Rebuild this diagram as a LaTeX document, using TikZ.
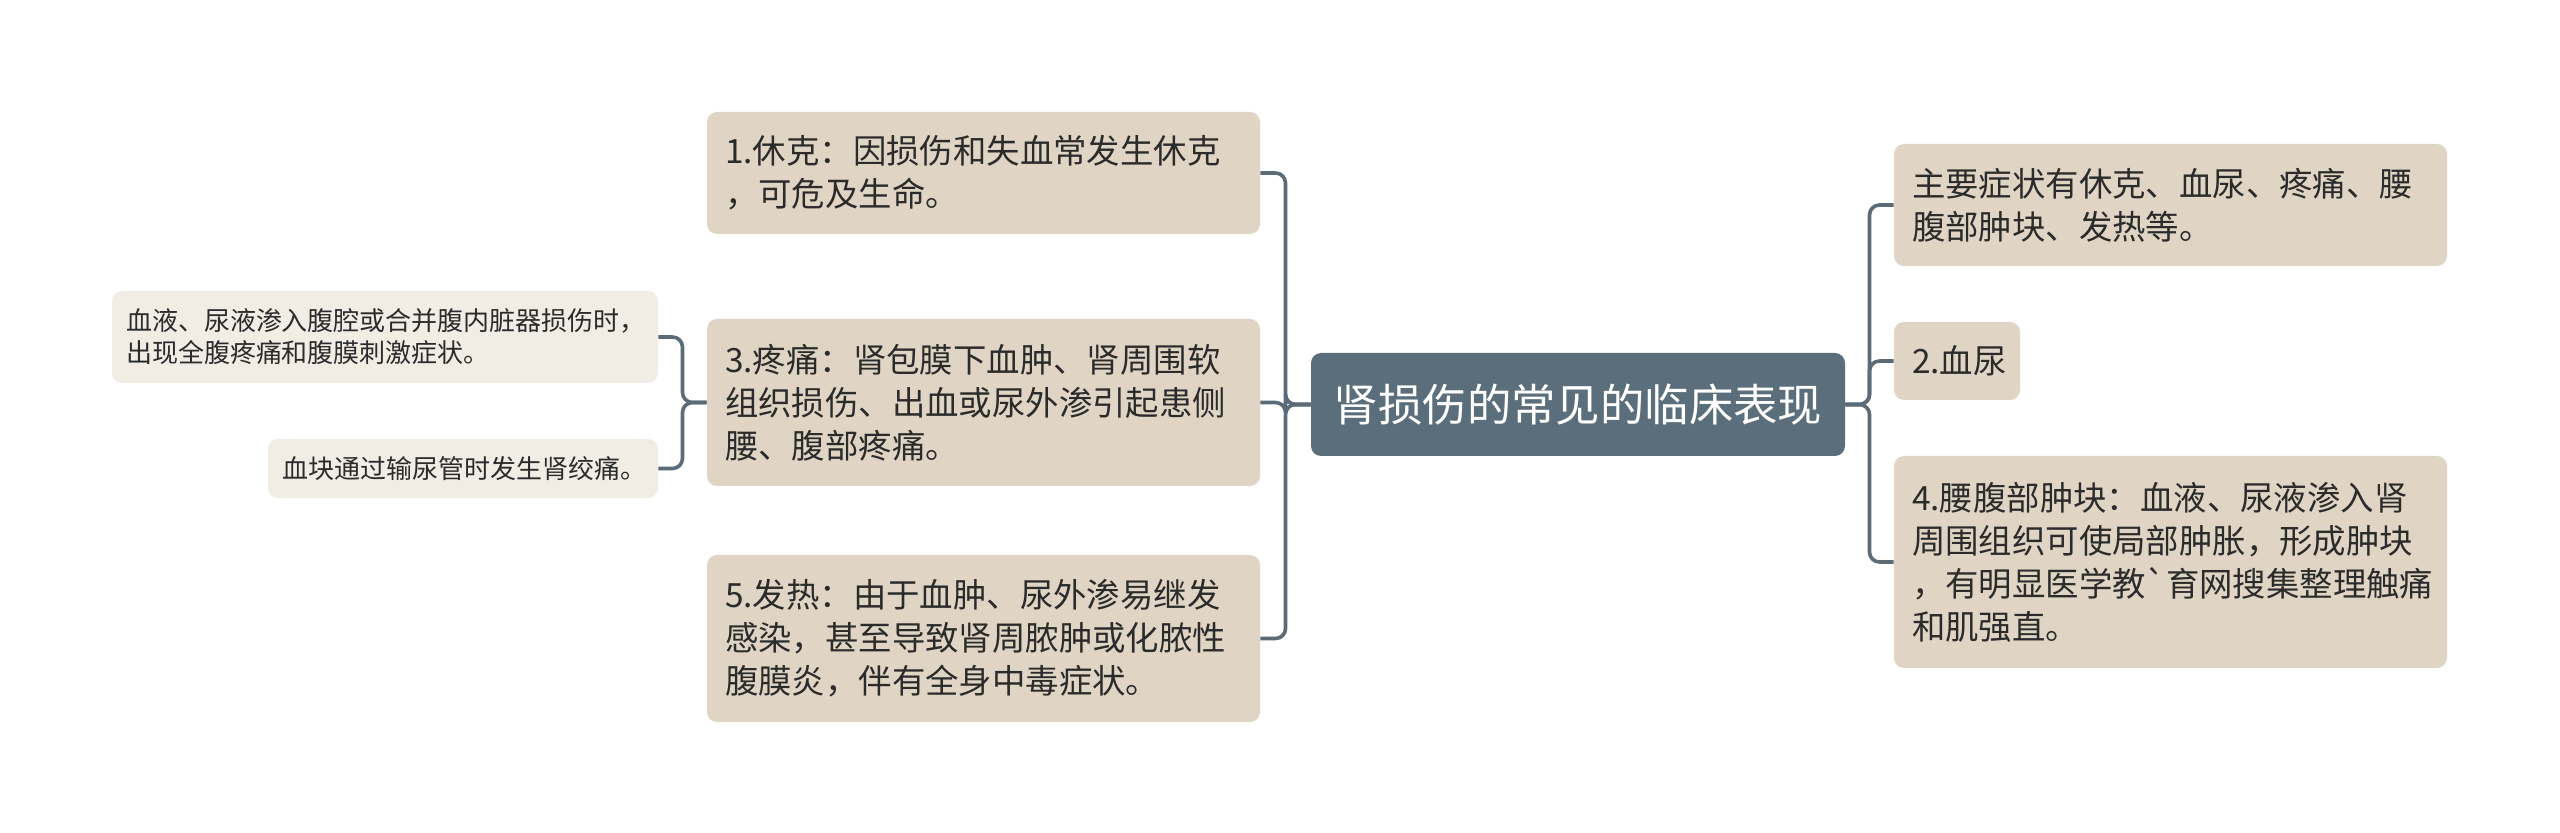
\documentclass[tikz,border=0pt]{standalone}
\usepackage{fontspec}
\setmainfont{Noto Sans CJK SC}[Ligatures=TeXOff]
\definecolor{centerfill}{HTML}{5B6E7B}
\definecolor{boxfill}{HTML}{E0D5C4}
\definecolor{childfill}{HTML}{F1EDE5}
\definecolor{linecol}{HTML}{5B6B77}
\definecolor{txt}{HTML}{2B2B2B}
\begin{document}
\begin{tikzpicture}[x=0.5pt,y=-0.5pt,
  mainbox/.style={fill=boxfill,rounded corners=5pt,inner xsep=9pt,inner ysep=0pt,align=left,anchor=center,
    font=\fontsize{16.7pt}{21.5pt}\selectfont,text=txt},
  childbox/.style={fill=childfill,rounded corners=5pt,inner xsep=7pt,inner ysep=0pt,align=left,anchor=center,
    font=\fontsize{13pt}{16pt}\selectfont,text=txt},
  rootbox/.style={fill=centerfill,rounded corners=5pt,inner sep=0pt,align=center,anchor=center,
    font=\fontsize{22.2pt}{26pt}\selectfont,text=white},
  conn/.style={draw=linecol,line width=1.8pt,rounded corners=5pt}]
\useasboundingbox (0,0) rectangle (2560,833);
\fill[white] (0,0) rectangle (2560,833);
% root
\node[rootbox,minimum width=267pt,minimum height=51.5pt] (root) at (1578,404.5) {肾损伤的常见的临床表现};
% left main boxes
\node[mainbox,text width=258.5pt,minimum height=61pt] (b1) at (983.5,173)
  {1.休克：因损伤和失血常发生休克\\，可危及生命。};
\node[mainbox,text width=258.5pt,minimum height=83.5pt] (b3) at (983.5,402.5)
  {3.疼痛：肾包膜下血肿、肾周围软\\组织损伤、出血或尿外渗引起患侧\\腰、腹部疼痛。};
\node[mainbox,text width=258.5pt,minimum height=83.5pt] (b5) at (983.5,638.5)
  {5.发热：由于血肿、尿外渗易继发\\感染，甚至导致肾周脓肿或化脓性\\腹膜炎，伴有全身中毒症状。};
% left children
\node[childbox,text width=259pt,minimum height=46pt] (c1) at (385,337)
  {血液、尿液渗入腹腔或合并腹内脏器损伤时，\\出现全腹疼痛和腹膜刺激症状。};
\node[childbox,text width=181pt,minimum height=29.5pt] (c2) at (463,468.5)
  {血块通过输尿管时发生肾绞痛。};
% right boxes
\node[mainbox,text width=258.5pt,minimum height=61pt] (r1) at (2170.5,205)
  {主要症状有休克、血尿、疼痛、腰\\腹部肿块、发热等。};
\node[mainbox,text width=45pt,minimum height=39pt] (r2) at (1957,361)
  {2.血尿};
\node[mainbox,text width=258.5pt,minimum height=106pt] (r4) at (2170.5,562)
  {4.腰腹部肿块：血液、尿液渗入肾\\周围组织可使局部肿胀，形成肿块\\，有明显医学教`育网搜集整理触痛\\和肌强直。};
% junctions
\coordinate (jl) at (1285.5,404.5);
\coordinate (jr) at (1869.5,404.5);
\coordinate (jc) at (682.5,402.5);
% connectors left
\draw[conn] (root.west) -- (jl) |- (b1.east);
\draw[conn] (root.west) -- (jl) |- (b3.east);
\draw[conn] (root.west) -- (jl) |- (b5.east);
% connectors right
\draw[conn] (root.east) -- (jr) |- (r1.west);
\draw[conn] (root.east) -- (jr) |- (r2.west);
\draw[conn] (root.east) -- (jr) |- (r4.west);
% children
\draw[conn] (b3.west) -- (jc) |- (c1.east);
\draw[conn] (b3.west) -- (jc) |- (c2.east);
\end{tikzpicture}
\end{document}
